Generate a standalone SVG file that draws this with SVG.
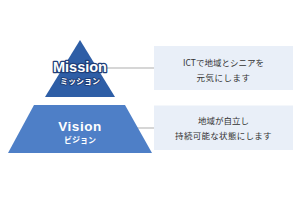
<svg xmlns="http://www.w3.org/2000/svg" width="300" height="200" viewBox="0 0 300 200">
<style>
.en{font-family:"Liberation Sans","Noto Sans CJK JP",sans-serif;font-weight:bold;fill:#fff;text-anchor:middle}
.kana{font-family:"Noto Sans CJK JP",sans-serif;font-weight:bold;fill:#fff;text-anchor:middle;font-size:8px}
.out{stroke:#1f3f7a;stroke-width:2.6;stroke-linejoin:round;paint-order:stroke}
.box{fill:#e9eff8}
.bt{font-family:"Noto Sans CJK JP",sans-serif;font-size:8.5px;fill:#333;text-anchor:middle}
.conn{stroke:#c8c8c8;stroke-width:1.5;fill:none}
</style>
<rect width="300" height="200" fill="#fff"/>
<g id="connectors">
<line class="conn" x1="97" y1="68" x2="154" y2="68"/>
<line class="conn" x1="137" y1="128" x2="154" y2="128"/>
</g>
<g id="mission">
<polygon points="80,40 115,97 45,97" fill="#2e5ea6"/>
<text class="en out" x="80" y="72" font-size="14.5">Mission</text>
<text class="kana out" x="80" y="84" style="stroke-width:2">ミッション</text>
</g>
<g id="vision">
<polygon points="34,105 125,105 152,153 8,153" fill="#4e7fc7"/>
<text class="en" x="80" y="130.5" font-size="13.5" letter-spacing="0.5">Vision</text>
<text class="kana" x="80" y="142.5" font-size="7.5">ビジョン</text>
</g>
<g id="mission-desc">
<rect class="box" x="154" y="46" width="139" height="44"/>
<text class="bt" x="223.5" y="66">ICTで地域とシニアを</text>
<text class="bt" x="223.5" y="81" letter-spacing="0.5">元気にします</text>
</g>
<g id="vision-desc">
<rect class="box" x="154" y="105.5" width="139" height="44.5"/>
<text class="bt" x="223.5" y="124">地域が自立し</text>
<text class="bt" x="223.5" y="139" letter-spacing="0.3">持続可能な状態にします</text>
</g>
</svg>
